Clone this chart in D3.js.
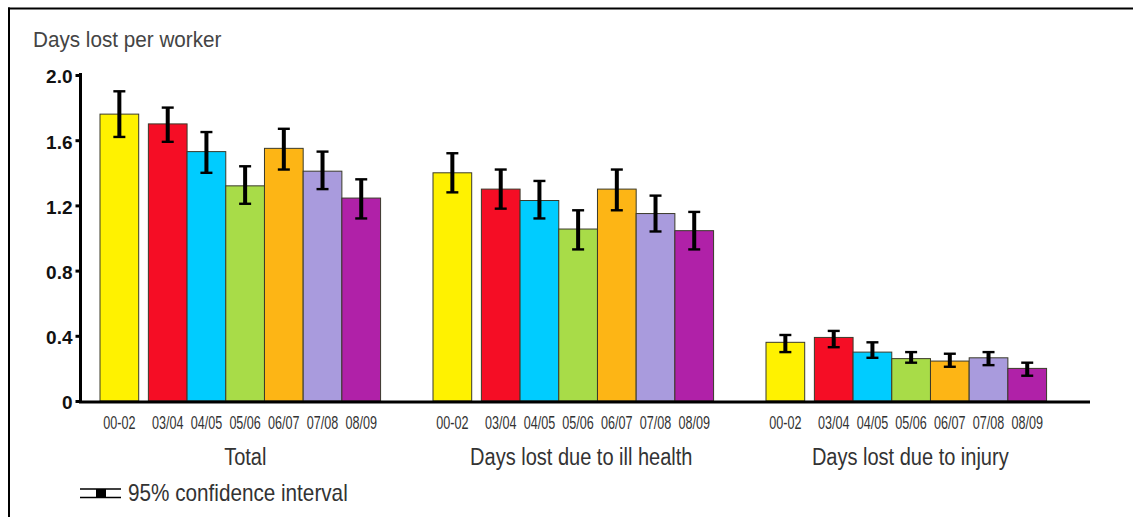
<!DOCTYPE html>
<html><head><meta charset="utf-8">
<script src="https://cdn.jsdelivr.net/npm/d3@7"></script>
<style>
html,body{margin:0;padding:0;background:#fff;}
svg text{font-family:"Liberation Sans",Arial,sans-serif;}
</style></head>
<body><svg id="c" width="1133" height="517"></svg>
<script>
const groups = ["Total", "Days lost due to ill health", "Days lost due to injury"];
const periods = ["00-02", "03/04", "04/05", "05/06", "06/07", "07/08", "08/09"];
const colors = ["#FFF200", "#F50D25", "#00CCFF", "#A8DC48", "#FDB515", "#A99BDD", "#B021A8"];
const totalVals = [1.76, 1.70, 1.53, 1.32, 1.55, 1.41, 1.245];
const totalLo   = [1.62, 1.59, 1.40, 1.21, 1.42, 1.30, 1.12];
const totalHi   = [1.90, 1.80, 1.65, 1.44, 1.67, 1.53, 1.36];
const illVals = [1.40, 1.30, 1.23, 1.055, 1.30, 1.15, 1.045];
const illLo   = [1.28, 1.18, 1.12, 0.93, 1.17, 1.04, 0.93];
const illHi   = [1.52, 1.42, 1.35, 1.17, 1.42, 1.26, 1.16];
const injVals = [0.36, 0.39, 0.30, 0.26, 0.245, 0.265, 0.20];
const injLo   = [0.30, 0.33, 0.265, 0.235, 0.21, 0.22, 0.155];
const injHi   = [0.405, 0.43, 0.36, 0.30, 0.29, 0.30, 0.235];
const yTicks = [0, 0.4, 0.8, 1.2, 1.6, 2.0];
const yTitle = "Days lost per worker";
const legendText = "95% confidence interval";

const seriesVals = [totalVals, illVals, injVals];
const seriesLo = [totalLo, illLo, injLo];
const seriesHi = [totalHi, illHi, injHi];

const data = [];
groups.forEach((g, gi) => periods.forEach((p, pi) => data.push({
  g, p, pi, v: seriesVals[gi][pi], lo: seriesLo[gi][pi], hi: seriesHi[gi][pi]
})));

const svg = d3.select("#c");
// horizontal condensing around the anchor x
function squeeze(sel, sx) {
  sel.each(function () {
    const t = d3.select(this);
    const x = +t.attr("x");
    t.attr("transform", `translate(${x},0) scale(${sx},1) translate(${-x},0)`);
  });
}

// frame
svg.append("line").attr("x1", 8).attr("x2", 1133).attr("y1", 8.5).attr("y2", 8.5).attr("stroke", "#000").attr("stroke-width", 2);
svg.append("line").attr("x1", 9).attr("x2", 9).attr("y1", 7.5).attr("y2", 517).attr("stroke", "#000").attr("stroke-width", 2);

const y = d3.scaleLinear().domain([0, 2]).range([401, 75]);
const xG = d3.scaleBand().domain(groups).range([100, 100 + 3 * 333]);
const barW = 38.7;
const slot = d3.scaleLinear().domain([0, 1]).range([0, barW]);
const slotIdx = [0, 1.25, 2.25, 3.25, 4.25, 5.25, 6.25];
const bx = d => xG(d.g) + slot(slotIdx[d.pi]);

// bars
svg.append("g").selectAll("rect").data(data).join("rect")
  .attr("x", d => bx(d))
  .attr("y", d => y(d.v))
  .attr("width", barW)
  .attr("height", d => y(0) - y(d.v))
  .attr("fill", d => colors[d.pi])
  .attr("stroke", "#3a3a2a").attr("stroke-width", 1);

// error bars
const eb = svg.append("g").selectAll("g").data(data).join("g");
eb.append("line").attr("x1", d => bx(d) + barW / 2).attr("x2", d => bx(d) + barW / 2)
  .attr("y1", d => y(d.hi)).attr("y2", d => y(d.lo)).attr("stroke", "#000").attr("stroke-width", 4);
eb.append("line").attr("x1", d => bx(d) + barW / 2 - 6).attr("x2", d => bx(d) + barW / 2 + 6)
  .attr("y1", d => y(d.hi)).attr("y2", d => y(d.hi)).attr("stroke", "#000").attr("stroke-width", 2.4);
eb.append("line").attr("x1", d => bx(d) + barW / 2 - 6).attr("x2", d => bx(d) + barW / 2 + 6)
  .attr("y1", d => y(d.lo)).attr("y2", d => y(d.lo)).attr("stroke", "#000").attr("stroke-width", 2.4);

// y axis
const ya = svg.append("g").attr("transform", "translate(80.5,0)")
  .call(d3.axisLeft(y).tickValues(yTicks).tickSize(5).tickPadding(3)
    .tickFormat(d => d === 0 ? "0" : d3.format(".1f")(d)));
ya.select(".domain").remove();
ya.selectAll(".tick line").attr("stroke", "#000").attr("stroke-width", 3);
ya.selectAll(".tick text").attr("font-size", 19).attr("font-weight", "bold").attr("fill", "#111")
  .style("font-family", "'Liberation Sans', Arial, sans-serif").attr("dy", "0.42em");
svg.append("line").attr("x1", 80.5).attr("x2", 80.5).attr("y1", 73).attr("y2", 403).attr("stroke", "#000").attr("stroke-width", 3);
// baseline
svg.append("line").attr("x1", 79).attr("x2", 1090).attr("y1", 402).attr("y2", 402).attr("stroke", "#000").attr("stroke-width", 3);

// x tick labels
svg.append("g").selectAll("text").data(data).join("text")
  .attr("x", d => bx(d) + barW / 2).attr("y", 429)
  .attr("text-anchor", "middle").attr("font-size", 18).attr("fill", "#333")
  .text(d => d.p).call(squeeze, 0.7);

// group labels
const gOff = [5, 8, 4];
svg.append("g").selectAll("text").data(groups).join("text")
  .attr("x", (g, i) => xG(g) + slot(7.25) / 2 + gOff[i]).attr("y", 465)
  .attr("text-anchor", "middle").attr("font-size", 23).attr("fill", "#333").text(g => g)
  .call(squeeze, 0.87);

// title
svg.append("text").attr("x", 33).attr("y", 47).attr("font-size", 22).attr("fill", "#444").text(yTitle)
  .call(squeeze, 0.94);

// legend
const lg = svg.append("g");
lg.append("line").attr("x1", 80).attr("x2", 121).attr("y1", 489).attr("y2", 489).attr("stroke", "#000").attr("stroke-width", 1.5);
lg.append("line").attr("x1", 80).attr("x2", 121).attr("y1", 497.5).attr("y2", 497.5).attr("stroke", "#000").attr("stroke-width", 1.5);
lg.append("rect").attr("x", 96).attr("y", 489).attr("width", 10).attr("height", 8.5).attr("fill", "#000");
lg.append("text").attr("x", 128).attr("y", 501).attr("font-size", 23).attr("fill", "#333").text(legendText)
  .call(squeeze, 0.9);
</script></body></html>
